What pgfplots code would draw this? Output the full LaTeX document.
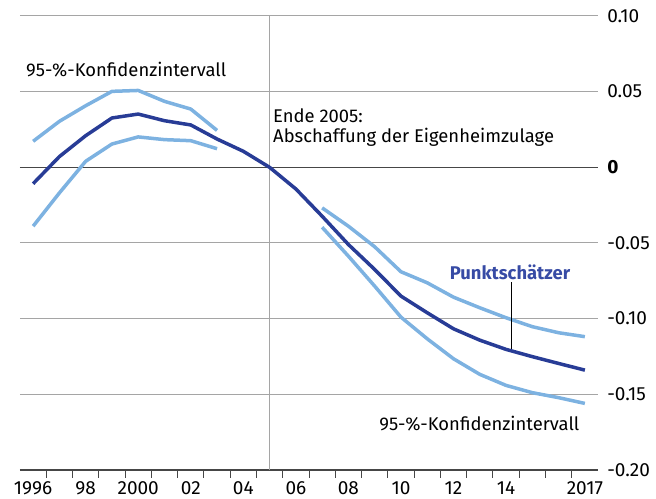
\documentclass[border=0pt]{standalone}
\usepackage{fontspec}
\setmainfont{Fira Sans}
\usepackage{pgfplots}
\pgfplotsset{compat=1.18}
\definecolor{dark}{RGB}{40,60,150}
\definecolor{light}{RGB}{125,178,225}
\definecolor{punkt}{RGB}{55,75,165}
\definecolor{grd}{RGB}{165,165,165}
\definecolor{ax}{RGB}{70,70,70}
\begin{document}
\fontsize{18.4}{22}\selectfont
\begin{tikzpicture}
\begin{axis}[
  scale only axis, width=578pt, height=454pt,
  xmin=1995.5, xmax=2017.5, ymin=-0.2, ymax=0.1,
  separate axis lines,
  axis x line*=bottom, axis y line*=right,
  x axis line style={ax, line width=1.6pt},
  y axis line style={draw=none},
  xtick={1996,1998,2000,2002,2004,2006,2008,2010,2012,2014,2017},
  xticklabels={1996,98,2000,02,04,06,08,10,12,14,2017},
  major x tick style={draw=none},
  minor xtick={1996.5,1997.5,...,2016.5},
  minor x tick style={ax, line width=1pt},
  tick align=outside, minor tick length=8pt, major tick length=0pt,
  xticklabel style={font=\fontsize{19}{22}\selectfont, yshift=-5pt},
  ytick={-0.2,-0.15,-0.1,-0.05,0,0.05,0.1},
  yticklabels={-0.20,-0.15,-0.10,-0.05,\textbf{0},0.05,0.10},
  ytick style={draw=none},
  yticklabel style={font=\fontsize{19}{22}\selectfont, anchor=west, xshift=3pt},
  ymajorgrids, grid style={grd, line width=1pt},
  clip=false,
]
\coordinate (bl) at (rel axis cs:0,0);
\coordinate (tr) at (rel axis cs:1,1);
\draw[ax, line width=1.6pt] (axis cs:1995.5,0) -- (axis cs:2017.5,0);
\draw[grd, line width=1.5pt] (axis cs:2005,0.1) -- (axis cs:2005,-0.2);

\addplot[light, line width=3.5pt, line join=round] coordinates {
(1996,0.0172) (1997,0.0304) (1998,0.0407) (1999,0.0502) (2000,0.0508) (2001,0.0436) (2002,0.0385) (2003,0.0244)};
\addplot[light, line width=3.5pt, line join=round] coordinates {
(1996,-0.0389) (1997,-0.0169) (1998,0.0040) (1999,0.0154) (2000,0.0201) (2001,0.0183) (2002,0.0176) (2003,0.0123)};
\addplot[light, line width=3.5pt, line join=round] coordinates {
(2007,-0.0268) (2008,-0.0389) (2009,-0.0525) (2010,-0.0690) (2011,-0.0763) (2012,-0.0858) (2013,-0.0928) (2014,-0.0994) (2015,-0.1053) (2016,-0.1093) (2017,-0.1119)};
\addplot[light, line width=3.5pt, line join=round] coordinates {
(2007,-0.0396) (2008,-0.0587) (2009,-0.0785) (2010,-0.0990) (2011,-0.1133) (2012,-0.1265) (2013,-0.1368) (2014,-0.1441) (2015,-0.1489) (2016,-0.1522) (2017,-0.1560)};
\addplot[dark, line width=3.5pt, line join=round] coordinates {
(1996,-0.0108) (1997,0.0071) (1998,0.0209) (1999,0.0326) (2000,0.0352) (2001,0.0308) (2002,0.0280) (2003,0.0187) (2004,0.0106) (2005,0) (2006,-0.0143) (2007,-0.0323) (2008,-0.0510) (2009,-0.0675) (2010,-0.0851) (2011,-0.0961) (2012,-0.1067) (2013,-0.1142) (2014,-0.1203) (2015,-0.1251) (2016,-0.1296) (2017,-0.1340)};

\draw[black, line width=0.8pt] (axis cs:2014.21,-0.0761) -- (axis cs:2014.21,-0.1203);
\node[anchor=west, inner sep=0pt] at (axis cs:1995.73,0.0645) {95-\%-Konfidenzintervall};
\node[anchor=west, inner sep=0pt] at (axis cs:2005.13,0.0341) {Ende 2005:};
\node[anchor=west, inner sep=0pt] at (axis cs:2005.13,0.0196) {Abschaffung der Eigenheimzulage};
\node[inner sep=0pt, text=punkt] at (axis cs:2014.15,-0.0695) {\textbf{Punktschätzer}};
\node[anchor=west, inner sep=0pt] at (axis cs:2009.17,-0.1693) {95-\%-Konfidenzintervall};
\end{axis}
\pgfresetboundingbox
\path[use as bounding box] ([shift={(-20pt,-29pt)}]bl) rectangle ([shift={(58pt,16pt)}]tr);
\end{tikzpicture}
\end{document}
